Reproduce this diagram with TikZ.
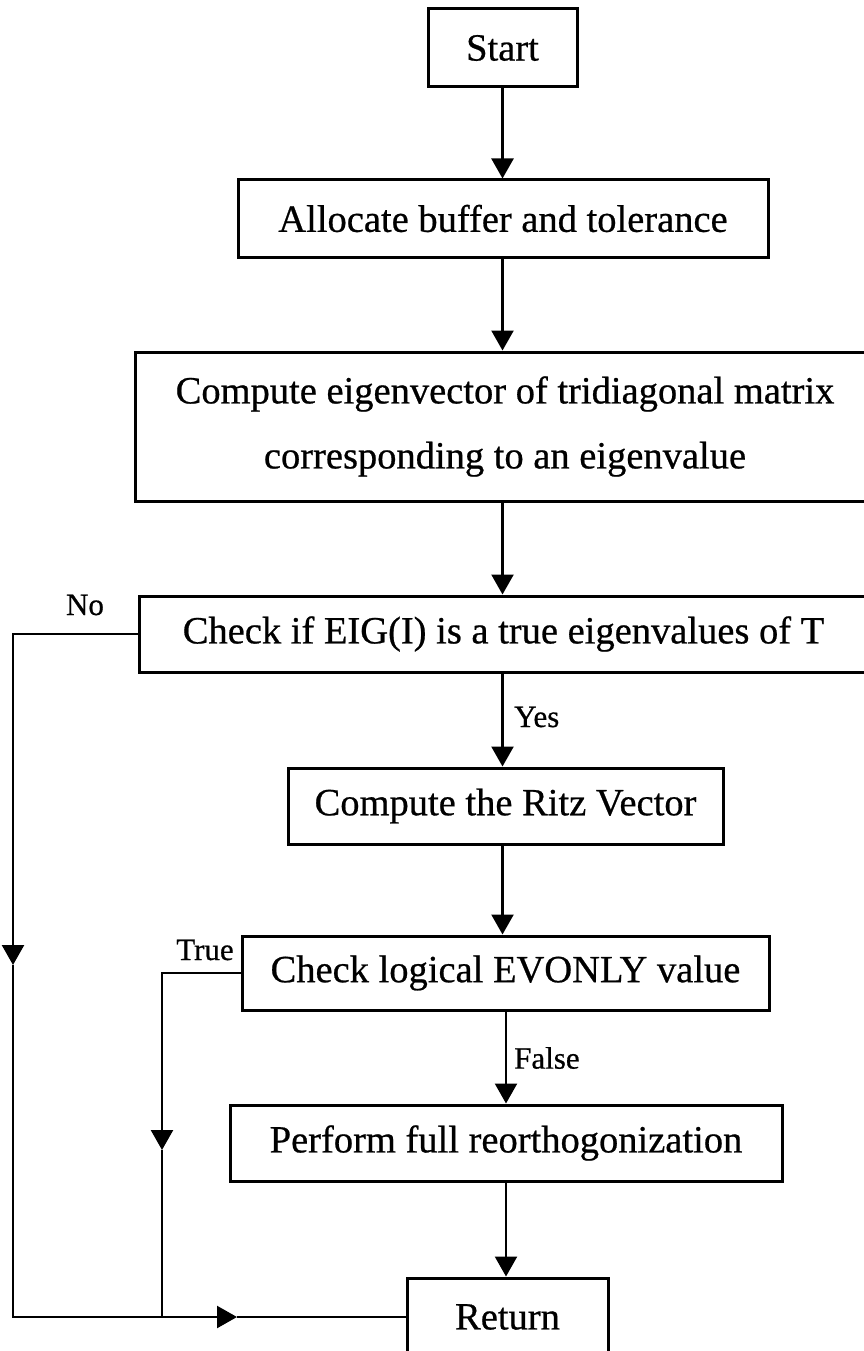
\documentclass[tikz,border=0pt]{standalone}
\usepackage{fontspec}
\setmainfont[FakeBold=0.6]{Liberation Serif}
\usetikzlibrary{arrows.meta}
\begin{document}
\begin{tikzpicture}[x=1pt,y=-1pt,
  box/.style={draw, line width=3pt, inner sep=0pt, align=center,
    font=\fontsize{38.5}{65}\selectfont},
  flow/.style={line width=2.4pt, line join=miter, -{Triangle[width=22pt,length=20pt]}},
  wire/.style={line width=2.4pt, line join=miter},
  lbl/.style={inner sep=0pt, font=\fontsize{31}{36}\selectfont}]
\useasboundingbox[fill=white] (0,0) rectangle (864,1351);
\clip (0,0) rectangle (864,1351);

% columns used by the vertical connectors
\coordinate (colU) at (502.5,0);
\coordinate (colL) at (506,0);

% process boxes
\node[box, minimum width=149pt, minimum height=78pt] (start) at (502.5,48) {Start};
\node[box, minimum width=530pt, minimum height=77pt] (alloc) at (503,218.5) {Allocate buffer and tolerance};
\node[box, minimum width=740pt, minimum height=149pt] (comp) at (505,426.5)
  {Compute eigenvector of tridiagonal matrix\\corresponding to an eigenvalue};
\node[box, minimum width=729pt, minimum height=76pt] (check) at (503.5,634) {Check if EIG(I) is a true eigenvalues of T};
\node[box, minimum width=435pt, minimum height=76pt] (ritz) at (505.5,806) {Compute the Ritz Vector};
\node[box, minimum width=527pt, minimum height=74pt] (evonly) at (505.5,973) {Check logical EVONLY value};
\node[box, minimum width=552pt, minimum height=76pt] (perform) at (506,1143) {Perform full reorthogonization};
\node[box, minimum width=201pt, minimum height=78pt] (return) at (507.5,1317) {Return};

% branch labels
\node[lbl] (nolbl) at (85,605) {No};
\node[lbl, anchor=west] (yeslbl) at (514,717) {Yes};
\node[lbl] (truelbl) at (205,950) {True};
\node[lbl, anchor=west] (falselbl) at (514,1058) {False};

% main flow
\draw[flow] (start.south -| colU) -- (alloc.north -| colU);
\draw[flow] (alloc.south -| colU) -- (comp.north -| colU);
\draw[flow] (comp.south -| colU) -- (check.north -| colU);
\draw[flow] (check.south -| colU) -- (ritz.north -| colU);
\draw[flow] (ritz.south -| colU) -- (evonly.north -| colU);
\draw[flow] (evonly.south -| colL) -- (perform.north -| colL);
\draw[flow] (perform.south -| colL) -- (return.north -| colL);

% bypass routes to Return
\coordinate (noarrow) at (13,965);
\coordinate (junction) at (162,1317);
\coordinate (botarrow) at (237,1317);
\coordinate (truearrow) at (162,1150);

\draw[flow] (check.west) -| (noarrow);
\draw[wire] (noarrow) |- (junction);
\draw[flow] (junction) -- (botarrow);
\draw[wire] (botarrow) -- (return.west);

\draw[flow] (evonly.west) -| (truearrow);
\draw[wire] (truearrow) -- (junction);
\end{tikzpicture}
\end{document}
